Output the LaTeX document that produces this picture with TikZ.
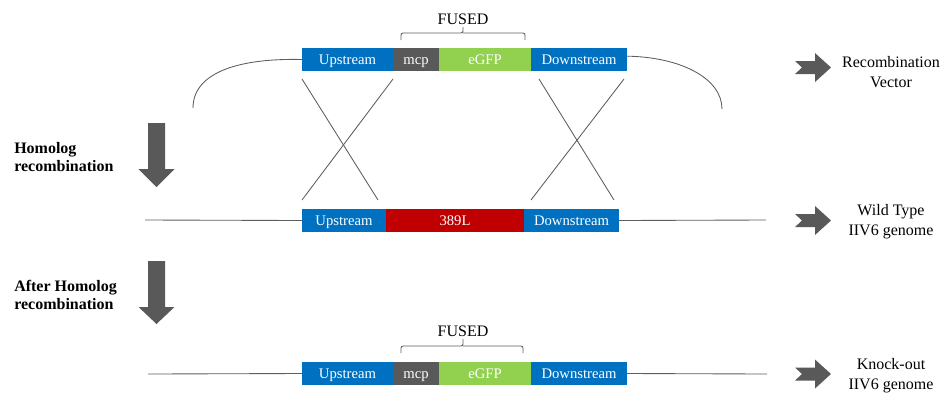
\documentclass[tikz,border=0pt]{standalone}
\usepackage{fontspec}
\setmainfont{Liberation Serif}
\definecolor{cblue}{HTML}{0070C0}
\definecolor{cgrey}{HTML}{595959}
\definecolor{cgreen}{HTML}{92D050}
\definecolor{cred}{HTML}{C00000}
\definecolor{cline}{HTML}{5E5E5E}
\begin{document}
\begin{tikzpicture}[x=0.75pt,y=-0.75pt,
  seg/.style={rectangle, inner sep=0pt, outer sep=0pt, minimum height=17.25pt, text height=8.4pt, text depth=0.6pt, text=white, font=\fontsize{11}{13}\selectfont},
  thinline/.style={draw=cline, line width=0.65pt},
  bigarrow/.style={fill=cgrey, draw=none},
  sidetext/.style={font=\fontsize{12}{15}\selectfont, align=center, inner sep=0pt},
  fusedtext/.style={font=\fontsize{12}{14}\selectfont, inner sep=0pt},
  steplabel/.style={font=\fontsize{12}{13.5}\selectfont\bfseries, align=left, anchor=west, inner sep=0pt}]
\useasboundingbox (0,0) rectangle (945,394);

% ---- top row: recombination vector
\node[seg, fill=cblue,  minimum width=68.25pt] (up1)  at (347.5,59.5) {Upstream};
\node[seg, fill=cgrey,  minimum width=34.5pt]  (mcp1) at (416,59.5) {mcp};
\node[seg, fill=cgreen, minimum width=69pt]    (gfp1) at (485,59.5) {eGFP};
\node[seg, fill=cblue,  minimum width=72pt]    (dn1)  at (579,59.5) {Downstream};

\node[fusedtext] (fused1) at (463,19) {FUSED};
\coordinate (b1l) at (401,40);
\coordinate (b1m) at (463,27);
\coordinate (b1r) at (525,40);
\draw[thinline, rounded corners=1.5pt] (b1l) |- (463,33) -- (b1m);
\draw[thinline, rounded corners=1.5pt] (b1r) |- (463,33);

% ---- middle row: wild type
\node[seg, fill=cblue, minimum width=63pt]    (up2) at (344,220.5) {Upstream};
\node[seg, fill=cred,  minimum width=103.5pt] (wt)  at (455,220.5) {389L};
\node[seg, fill=cblue, minimum width=71.25pt] (dn2) at (571.5,220.5) {Downstream};

% ---- bottom row: knock-out
\node[seg, fill=cblue,  minimum width=68.25pt] (up3)  at (347.5,373.5) {Upstream};
\node[seg, fill=cgrey,  minimum width=34.5pt]  (mcp3) at (416,373.5) {mcp};
\node[seg, fill=cgreen, minimum width=69pt]    (gfp3) at (485,373.5) {eGFP};
\node[seg, fill=cblue,  minimum width=72pt]    (dn3)  at (579,373.5) {Downstream};

\node[fusedtext] (fused3) at (463,331) {FUSED};
\coordinate (b3l) at (401,353);
\coordinate (b3m) at (463,339);
\coordinate (b3r) at (523,353);
\draw[thinline, rounded corners=1.5pt] (b3l) |- (463,346) -- (b3m);
\draw[thinline, rounded corners=1.5pt] (b3r) |- (463,346);

% ---- genome lines
\coordinate (g2l) at (145,220);
\coordinate (g2r) at (766,220);
\draw[thinline] (g2l) -- (up2.west);
\draw[thinline] (dn2.east) -- (g2r);
\coordinate (g3l) at (148,374);
\coordinate (g3r) at (767,374);
\draw[thinline] (g3l) -- (up3.west);
\draw[thinline] (dn3.east) -- (g3r);

% ---- vector arcs
\coordinate (la) at (193,108);
\coordinate (ra) at (722,109);
\draw[thinline] (up1.west) .. controls (240,58) and (193,72) .. (la);
\draw[thinline] ([yshift=2.5pt]dn1.east) .. controls (680,57) and (722,78) .. (ra);

% ---- crossover lines
\coordinate (x1a) at (302,79);
\coordinate (x1b) at (378,200);
\coordinate (x2a) at (393,79);
\coordinate (x2b) at (302,200);
\coordinate (x3a) at (539,79);
\coordinate (x3b) at (614,200);
\coordinate (x4a) at (624,79);
\coordinate (x4b) at (531,200);
\draw[thinline] (x1a) -- (x1b);
\draw[thinline] (x2a) -- (x2b);
\draw[thinline] (x3a) -- (x3b);
\draw[thinline] (x4a) -- (x4b);

% ---- step arrows (down)
\fill[bigarrow] (148,123) -- (165,123) -- (165,169) -- (174.5,169) -- (156.5,187) -- (138.5,169) -- (148,169) -- cycle;
\fill[bigarrow] (148,261) -- (165,261) -- (165,307) -- (174.5,307) -- (156.5,324) -- (138.5,307) -- (148,307) -- cycle;
\node[steplabel] (s1) at (14,157.5) {Homolog\\recombination};
\node[steplabel] (s2) at (14,294.5) {After Homolog\\recombination};

% ---- right chevron arrows
\foreach \cy in {67.5,220.5,374} {
  \fill[bigarrow] (795,\cy-6.5) -- (815,\cy-6.5) -- (815,\cy-14.5) -- (831,\cy) -- (815,\cy+14.5) -- (815,\cy+6.5) -- (795,\cy+6.5) -- (802,\cy) -- cycle;
}
\node[sidetext] (t1) at (891,72) {Recombination\\Vector};
\node[sidetext] (t2) at (891,222) {Wild Type\\IIV6 genome};
\node[sidetext] (t3) at (891,375.5) {Knock-out\\IIV6 genome};
\end{tikzpicture}
\end{document}
